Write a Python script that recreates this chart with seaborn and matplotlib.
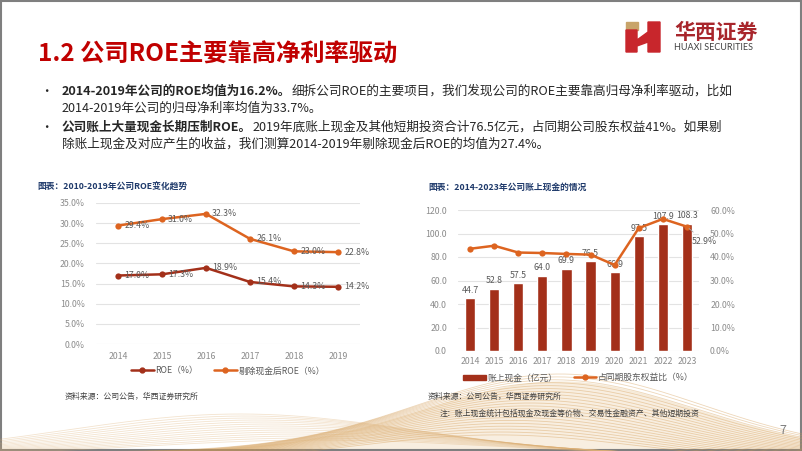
import numpy as np
import pandas as pd
import seaborn as sns
import matplotlib.pyplot as plt
from matplotlib.patches import Rectangle, Polygon
from matplotlib.lines import Line2D

# ---- data ----
roe_years = ['2014', '2015', '2016', '2017', '2018', '2019']
roe = [17.0, 17.3, 18.9, 15.4, 14.3, 14.2]
roe_ex_cash = [29.4, 31.0, 32.3, 26.1, 23.0, 22.8]

cash_years = ['2014', '2015', '2016', '2017', '2018', '2019', '2020', '2021', '2022', '2023']
cash = [44.7, 52.8, 57.5, 64.0, 69.9, 76.5, 66.9, 97.5, 107.9, 108.3]
cash_ratio = [43.5, 44.8, 41.9, 41.7, 41.3, 41.0, 36.6, 52.3, 56.2, 52.9]

sns.set_theme(style='white')
plt.rcParams['font.family'] = ['Noto Sans CJK SC', 'DejaVu Sans']
plt.rcParams['axes.unicode_minus'] = False

W, H = 802, 451
fig = plt.figure(figsize=(W / 100, H / 100), dpi=100)
fig.patch.set_facecolor('white')


def fx(x):
    return x / W


def fy(y):
    return 1 - y / H


# background: slide border and the golden wave at the bottom
bg = fig.add_axes([0, 0, 1, 1], zorder=-5)
bg.set_xlim(0, W)
bg.set_ylim(H, 0)
bg.axis('off')
xs = np.linspace(0, W, 400)
bg.fill_between(xs, 452 - 70 * np.exp(-((xs - 560) / 190) ** 2), 452, color='#F4E4CC', alpha=0.6)
for i in range(22):
    yy = 452 - (78 - i * 2.4) * np.exp(-((xs - 560 + i * 3) / 200) ** 2) + i * 0.5
    bg.plot(xs, yy, color='#D39A50', lw=0.6, alpha=0.4)
for i in range(14):
    yy = 456 - (42 - i * 2) * np.exp(-((xs - 240 - i * 6) / 250) ** 2)
    bg.plot(xs, yy, color='#DDB075', lw=0.6, alpha=0.35)
bg.add_patch(Rectangle((0.5, 0.5), W - 1.5, H - 1.5, fill=False, ec='#7F7F7F', lw=1.5))

# logo
bg.add_patch(Rectangle((626, 22), 12, 8, color='#C8A46A'))
bg.add_patch(Polygon([(626, 30), (637, 30), (637, 40), (648, 32), (648, 22), (660, 22),
                      (660, 52), (648, 52), (648, 42), (637, 46), (637, 52), (626, 52)],
                     closed=True, color='#C8262C'))
fig.text(fx(674), fy(32), '华西证券', fontsize=15, fontweight='bold', color='#A8262C', va='center')
fig.text(fx(674), fy(48), 'HUAXI SECURITIES', fontsize=6.5, color='#404040', va='center',
         family=['Lato', 'DejaVu Sans'])

# title
fig.text(fx(38), fy(55), '1.2 公司ROE主要靠高净利率驱动', fontsize=17.5, fontweight='bold',
         color='#C00000', va='center')

# bullet paragraphs
renderer = fig.canvas.get_renderer()


def rich(x, y, parts, size=9.1):
    for s, bold in parts:
        t = fig.text(fx(x), fy(y), s, fontsize=size, fontweight='bold' if bold else 'normal',
                     color='#262626', va='center')
        x += t.get_window_extent(renderer).width


fig.text(fx(40), fy(91), '•', fontsize=9, color='#262626', va='center')
fig.text(fx(40), fy(127), '•', fontsize=9, color='#262626', va='center')
rich(62, 91, [('2014-2019年公司的ROE均值为16.2%。', True),
              ('细拆公司ROE的主要项目，我们发现公司的ROE主要靠高归母净利率驱动，比如', False)])
rich(62, 108, [('2014-2019年公司的归母净利率均值为33.7%。', False)])
rich(62, 127, [('公司账上大量现金长期压制ROE。', True),
               ('2019年底账上现金及其他短期投资合计76.5亿元，占同期公司股东权益41%。如果剔', False)])
rich(62, 144, [('除账上现金及对应产生的收益，我们测算2014-2019年剔除现金后ROE的均值为27.4%。', False)])

# chart captions / sources
cap = dict(fontsize=6.3, fontweight='bold', color='#1F3A6B', va='center')
fig.text(fx(37), fy(187), '图表：2010-2019年公司ROE变化趋势', **cap)
fig.text(fx(428), fy(187), '图表：2014-2023年公司账上现金的情况', **cap)
src = dict(fontsize=5.7, color='#404040', va='center')
fig.text(fx(65), fy(396), '资料来源：公司公告，华西证券研究所', **src)
fig.text(fx(428), fy(396), '资料来源：公司公告，华西证券研究所', **src)
fig.text(fx(440), fy(413), '注：账上现金统计包括现金及现金等价物、交易性金融资产、其他短期投资', **src)
fig.text(fx(779), fy(430), '7', fontsize=9, color='#7F7F7F', va='center')

tick_color = '#8C8C8C'
label_color = '#595959'
dark_red = '#A3301A'
orange = '#DD6420'

# ---- left chart: ROE ----
ax1 = fig.add_axes([fx(96), fy(344), 264 / W, 141 / H])
df1 = pd.DataFrame({'x': np.arange(len(roe_years)), 'roe': roe, 'ex': roe_ex_cash})
sns.lineplot(data=df1, x='x', y='roe', ax=ax1, color=dark_red, lw=1.8, marker='o',
             markersize=4.5, markeredgewidth=0)
sns.lineplot(data=df1, x='x', y='ex', ax=ax1, color=orange, lw=1.8, marker='o',
             markersize=4.5, markeredgewidth=0)
for i in range(len(roe_years)):
    ax1.text(i + 0.14, roe[i], f'{roe[i]:.1f}%', fontsize=6.3, color=label_color, va='center')
    ax1.text(i + 0.14, roe_ex_cash[i], f'{roe_ex_cash[i]:.1f}%', fontsize=6.3, color=label_color,
             va='center')
ax1.set_xlim(-0.5, len(roe_years) - 0.5)
ax1.set_ylim(0, 35)
ax1.set_yticks(np.arange(0, 36, 5))
ax1.set_yticklabels([f'{v:.1f}%' for v in np.arange(0, 36, 5)])
ax1.set_xticks(range(len(roe_years)))
ax1.set_xticklabels(roe_years)
ax1.grid(axis='y', color='#E3E3E3', lw=0.8)
ax1.set_axisbelow(True)
ax1.set_xlabel('')
ax1.set_ylabel('')
sns.despine(ax=ax1, left=True, bottom=True)
ax1.tick_params(axis='both', labelsize=6.3, colors=tick_color, length=0, pad=8)
ax1.tick_params(axis='x', pad=6)
h1 = [Line2D([], [], color=dark_red, lw=1.8, marker='o', markersize=3.5),
      Line2D([], [], color=orange, lw=1.8, marker='o', markersize=3.5)]
ax1.legend(h1, ['ROE（%）', '剔除现金后ROE（%）'], loc='center', bbox_to_anchor=(0.5, -0.19),
           ncol=2, frameon=False, fontsize=6.3, labelcolor=label_color, handlelength=2.6,
           columnspacing=1.8, handletextpad=0.2)

# ---- right chart: cash on books ----
ax2 = fig.add_axes([fx(458), fy(351), 241 / W, 141 / H])
df2 = pd.DataFrame({'year': cash_years, 'cash': cash, 'ratio': cash_ratio,
                    'x': np.arange(len(cash_years))})
sns.barplot(data=df2, x='year', y='cash', ax=ax2, color=dark_red, width=0.42, saturation=1)
for i, v in enumerate(cash):
    ax2.text(i, v + 3, f'{v:.1f}', fontsize=6.3, color=label_color, ha='center', va='bottom')
ax2.set_xlim(-0.5, len(cash_years) - 0.5)
ax2.set_ylim(0, 120)
ax2.set_yticks(np.arange(0, 121, 20))
ax2.set_yticklabels([f'{v:.1f}' for v in np.arange(0, 121, 20)])
ax2.grid(axis='y', color='#E3E3E3', lw=0.8)
ax2.set_axisbelow(True)
ax2.set_xlabel('')
ax2.set_ylabel('')
sns.despine(ax=ax2, left=True, bottom=True)
ax2.tick_params(axis='both', labelsize=6.3, colors=tick_color, length=0, pad=8)
ax2.tick_params(axis='x', pad=4)

ax3 = ax2.twinx()
sns.lineplot(data=df2, x='x', y='ratio', ax=ax3, color=orange, lw=1.8, marker='o',
             markersize=4.5, markeredgewidth=0)
ax3.set_ylim(0, 60)
ax3.set_yticks(np.arange(0, 61, 10))
ax3.set_yticklabels([f'{v:.1f}%' for v in np.arange(0, 61, 10)])
ax3.set_ylabel('')
ax3.set_xlabel('')
sns.despine(ax=ax3, left=True, right=True, bottom=True)
ax3.tick_params(axis='y', labelsize=6.3, colors=tick_color, length=0, pad=8)
last = len(cash_years) - 1
ax3.annotate(f'{cash_ratio[last]:.1f}%', xy=(last, cash_ratio[last]), xytext=(last + 0.2, 46.5),
             fontsize=6.3, color=label_color, va='center',
             arrowprops=dict(arrowstyle='-', color='#A6A6A6', lw=0.6))
ax3.set_xlim(-0.5, len(cash_years) - 0.5)

h2 = [Rectangle((0, 0), 1, 1, color=dark_red),
      Line2D([], [], color=orange, lw=1.8, marker='o', markersize=3.5)]
ax2.legend(h2, ['账上现金（亿元）', '占同期股东权益比（%）'], loc='center',
           bbox_to_anchor=(0.5, -0.19), ncol=2, frameon=False, fontsize=6.3,
           labelcolor=label_color, handlelength=2.6, handleheight=0.5, columnspacing=1.8,
           handletextpad=0.2)

fig.savefig('out.png', dpi=100)
